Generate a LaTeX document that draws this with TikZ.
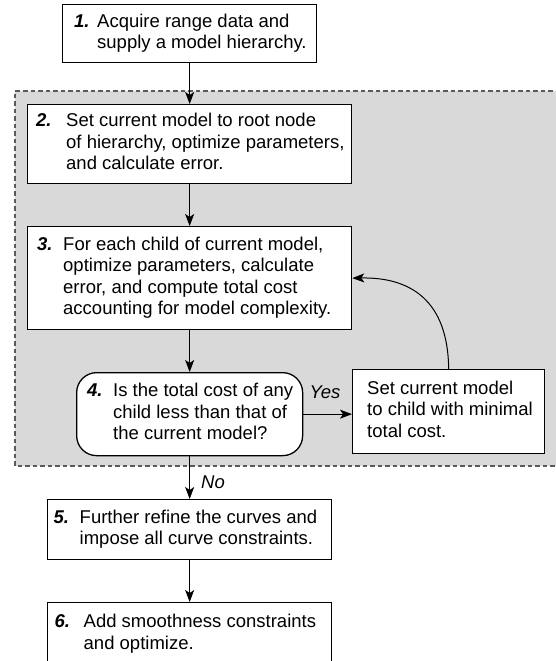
\documentclass[tikz,border=0pt]{standalone}
\usepackage{fontspec}
\setmainfont{Liberation Sans}
\usetikzlibrary{arrows.meta,calc}
\definecolor{bgfill}{HTML}{D9D9D9}
\definecolor{dashgray}{HTML}{5A5A5A}
\newcommand{\stepnum}[1]{\textbf{\textit{#1}}}
\begin{document}
\begin{tikzpicture}[x=1pt,y=-1pt,
  box/.style={draw=black, line width=1.3pt, fill=white, anchor=north west, inner sep=0pt},
  txt/.style={anchor=west, inner sep=0pt, align=left, font=\fontsize{18.5}{21.5}\selectfont},
  arr/.style={line width=1pt, -{Stealth[length=12pt,width=9pt,inset=3pt]}},
  lbl/.style={inner sep=0pt, font=\fontsize{18.5}{21.5}\selectfont\itshape},
  dashline/.style={draw=dashgray, line width=1.1pt, dash pattern=on 4.5pt off 3pt}]
\useasboundingbox (0,0) rectangle (556,661);
\clip (0,0) rectangle (556,661);
% grey region
\fill[bgfill] (15,91) rectangle (560,466);
\draw[dashline] (560,91) -- (15,91) -- (15,466) -- (560,466);
% boxes
\node[box, minimum width=254pt, minimum height=58pt] (b1) at (62,4) {};
\node[box, minimum width=324pt, minimum height=79pt] (b2) at (27,104) {};
\node[box, minimum width=324pt, minimum height=103pt] (b3) at (27,226) {};
\node[box, minimum width=226pt, minimum height=83pt, rounded corners=20pt] (b4) at (76,372) {};
\node[box, minimum width=192pt, minimum height=84pt] (set) at (352,369) {};
\node[box, minimum width=284pt, minimum height=60pt] (b5) at (47,499) {};
\node[box, minimum width=284pt, minimum height=90pt] (b6) at (47,602) {};
% texts
\node[txt] (t1) at ([xshift=12pt]b1.west) {\begin{tabular}{@{}p{23pt}@{}l@{}}\stepnum{1.} & Acquire range data and\\ & supply a model hierarchy.\end{tabular}};
\node[txt] (t2) at ([xshift=9pt]b2.west) {\begin{tabular}{@{}p{30pt}@{}l@{}}\stepnum{2.} & Set current model to root node\\ & of hierarchy, optimize parameters,\\ & and calculate error.\end{tabular}};
\node[txt] (t3) at ([xshift=10pt]b3.west) {\begin{tabular}{@{}p{26pt}@{}l@{}}\stepnum{3.} & For each child of current model,\\ & optimize parameters, calculate\\ & error, and compute total cost\\ & accounting for model complexity.\end{tabular}};
\node[txt] (t4) at ([xshift=11pt]b4.west) {\begin{tabular}{@{}p{26pt}@{}l@{}}\stepnum{4.} & Is the total cost of any\\ & child less than that of\\ & the current model?\end{tabular}};
\node[txt] (tset) at ([xshift=15pt]set.west) {\begin{tabular}{@{}l@{}}Set current model\\ to child with minimal\\ total cost.\end{tabular}};
\node[txt] (t5) at ([xshift=6.5pt]b5.west) {\begin{tabular}{@{}p{26pt}@{}l@{}}\stepnum{5.} & Further refine the curves and\\ & impose all curve constraints.\end{tabular}};
\node[txt] (t6) at ([xshift=7.5pt,yshift=-32pt]b6.north west) {\begin{tabular}{@{}p{29pt}@{}l@{}}\stepnum{6.} & Add smoothness constraints\\ & and optimize.\end{tabular}};
% labels
\node[lbl] (yes) at (325,392) {Yes};
\node[lbl] (no) at (213,482) {No};
% connectors
\draw[arr] (b1) -- (b2);
\draw[arr] (b2) -- (b3);
\draw[arr] (b3) -- (b4);
\draw[arr] (b4) -- (b5);
\draw[arr] (b5) -- (b6);
\draw[arr] (b4.east) -- (b4.east -| set.west);
\draw[arr] (set.north) .. controls (448,300) and (410,277) .. (b3.east);
\end{tikzpicture}
\end{document}
